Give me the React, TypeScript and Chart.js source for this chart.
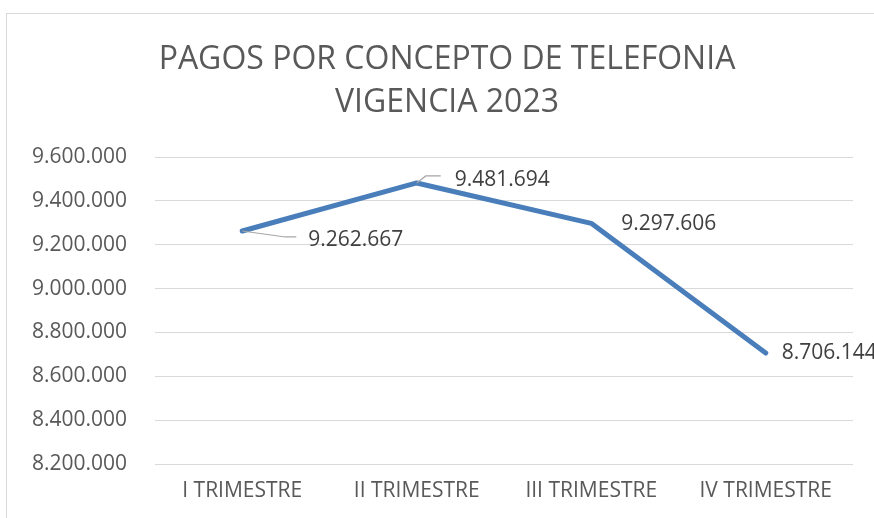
import React, { useEffect, useRef } from "react";
import { Chart, registerables } from "chart.js";

Chart.register(...registerables);

const categories = ["I TRIMESTRE", "II TRIMESTRE", "III TRIMESTRE", "IV TRIMESTRE"];
const pagos = [9262667, 9481694, 9297606, 8706144];
const titleLines = ["PAGOS POR CONCEPTO DE TELEFONIA", "VIGENCIA 2023"];
const yMin = 8200000;
const yMax = 9600000;
const yStep = 200000;

const FONT = "'Open Sans', 'Noto Sans', sans-serif";

const fmt = (v: number) => Math.round(v).toString().replace(/\B(?=(\d{3})+(?!\d))/g, ".");

// label placement relative to each point (style, not data)
const labelStyle = [
  { dx: 66, dy: 9, leader: [[0, 0], [43, 6], [54, 6]] },
  { dx: 38, dy: -3, leader: [[0, 0], [9, -7], [24, -7]] },
  { dx: 30, dy: 1, leader: null },
  { dx: 16, dy: 0, leader: null },
];

const chartPlugin = {
  id: "decor",
  beforeDraw(chart: any) {
    const ctx = chart.ctx;
    ctx.save();
    ctx.fillStyle = "#ffffff";
    ctx.fillRect(0, 0, chart.width, chart.height);
    ctx.strokeStyle = "#D9D9D9";
    ctx.lineWidth = 1;
    ctx.strokeRect(6.5, 13.5, chart.width + 10, chart.height + 10);
    ctx.fillStyle = "#595959";
    ctx.font = `32px ${FONT}`;
    ctx.textAlign = "center";
    ctx.textBaseline = "middle";
    ctx.fillText(titleLines[0], 447, 60);
    ctx.fillText(titleLines[1], 447, 103);
    ctx.restore();
  },
  afterDatasetsDraw(chart: any) {
    const ctx = chart.ctx;
    const meta = chart.getDatasetMeta(0);
    ctx.save();
    ctx.font = `21px ${FONT}`;
    ctx.fillStyle = "#404040";
    ctx.textAlign = "left";
    ctx.textBaseline = "middle";
    meta.data.forEach((pt: any, i: number) => {
      const s = labelStyle[i];
      const x = pt.x;
      const y = pt.y;
      if (s.leader) {
        ctx.strokeStyle = "#A6A6A6";
        ctx.lineWidth = 1.2;
        ctx.beginPath();
        s.leader.forEach((p: number[], j: number) => {
          if (j === 0) ctx.moveTo(x + p[0], y + p[1]);
          else ctx.lineTo(x + p[0], y + p[1]);
        });
        ctx.stroke();
      }
      ctx.fillText(fmt(pagos[i]), x + s.dx, y + s.dy);
    });
    ctx.restore();
  },
};

export default function App() {
  const ref = useRef<HTMLCanvasElement | null>(null);
  useEffect(() => {
    document.body.style.margin = "0";
    if (!ref.current) return;
    const chart = new Chart(ref.current, {
      type: "line",
      data: {
        labels: categories,
        datasets: [
          {
            data: pagos,
            borderColor: "#4A7EBB",
            borderWidth: 5,
            pointRadius: 0,
            tension: 0,
            borderCapStyle: "round",
            borderJoinStyle: "round",
            fill: false,
          },
        ],
      },
      options: {
        responsive: false,
        animation: false,
        layout: { padding: { top: 157, left: 6, right: 21, bottom: 0 } },
        plugins: {
          legend: { display: false },
          title: { display: false },
          tooltip: { enabled: false },
        },
        scales: {
          x: {
            offset: true,
            grid: { display: false, drawTicks: false },
            border: { display: false },
            ticks: { color: "#595959", font: { family: FONT, size: 21 }, padding: 14 },
            afterFit: (s: any) => { s.height = 54; },
          },
          y: {
            min: yMin,
            max: yMax,
            grid: { color: "#D9D9D9", lineWidth: 1, drawTicks: false },
            border: { display: false },
            ticks: {
              stepSize: yStep,
              color: "#595959",
              font: { family: FONT, size: 21 },
              padding: 28,
              callback: (v: any) => fmt(Number(v)),
            },
            afterFit: (s: any) => { s.width = 149; },
          },
        },
      },
      plugins: [chartPlugin],
    });
    return () => chart.destroy();
  }, []);
  return (
    <div style={{ position: "absolute", left: 0, top: 0, width: 874, height: 518 }}>
      <canvas ref={ref} width={874} height={518} style={{ display: "block" }} />
    </div>
  );
}
